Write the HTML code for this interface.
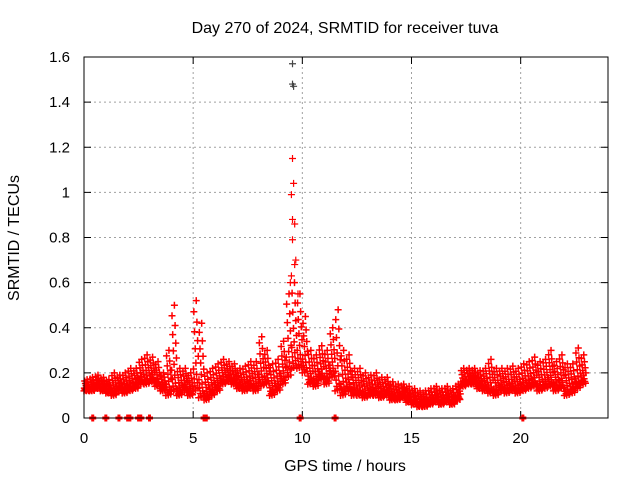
<!DOCTYPE html>
<html><head><meta charset="utf-8"><style>
body{margin:0;background:#fff;}
svg{display:block;font-family:"Liberation Sans",sans-serif;}
</style></head><body>
<svg id="chart" width="640" height="480" viewBox="0 0 640 480">
<rect width="640" height="480" fill="#fff"/>
<text x="345" y="33" font-size="16" text-anchor="middle">Day 270 of 2024, SRMTID for receiver tuva</text>
<text x="345" y="471" font-size="16" text-anchor="middle">GPS time / hours</text>
<text transform="translate(19,238) rotate(-90)" font-size="16" text-anchor="middle">SRMTID / TECUs</text>
<g id="grid"></g><g id="axes"></g><g id="pts"></g>
<rect x="84" y="57" width="524" height="361" fill="none" stroke="#000" stroke-width="1"/>
</svg>
<script>
const xTicks=[0,5,10,15,20];
const yTicks=[0,0.2,0.4,0.6,0.8,1,1.2,1.4,1.6];
const yTickLabels=["0","0.2","0.4","0.6","0.8","1","1.2","1.4","1.6"];
const times=[0,0.25,0.5,0.75,1,1.25,1.5,1.75,2,2.25,2.5,2.75,3,3.25,3.5,3.75,4,4.25,4.5,4.75,5,5.25,5.5,5.75,6,6.25,6.5,6.75,7,7.25,7.5,7.75,8,8.25,8.5,8.75,9,9.25,9.5,9.75,10,10.25,10.5,10.75,11,11.25,11.5,11.75,12,12.25,12.5,12.75,13,13.25,13.5,13.75,14,14.25,14.5,14.75,15,15.25,15.5,15.75,16,16.25,16.5,16.75,17,17.25,17.5,17.75,18,18.25,18.5,18.75,19,19.25,19.5,19.75,20,20.25,20.5,20.75,21,21.25,21.5,21.75,22,22.25,22.5,22.75];
const lowVals=[0.12,0.12,0.13,0.12,0.11,0.10,0.12,0.11,0.12,0.13,0.15,0.15,0.16,0.14,0.12,0.10,0.12,0.10,0.12,0.10,0.12,0.09,0.08,0.10,0.12,0.15,0.16,0.15,0.13,0.12,0.13,0.12,0.14,0.15,0.10,0.12,0.15,0.18,0.22,0.22,0.20,0.15,0.14,0.17,0.15,0.18,0.12,0.10,0.12,0.10,0.10,0.09,0.10,0.10,0.09,0.10,0.08,0.08,0.09,0.07,0.06,0.05,0.05,0.06,0.07,0.06,0.07,0.06,0.08,0.14,0.15,0.15,0.13,0.12,0.11,0.10,0.12,0.11,0.12,0.11,0.12,0.13,0.14,0.12,0.13,0.14,0.12,0.13,0.10,0.11,0.13,0.15];
const highVals=[0.17,0.18,0.19,0.18,0.17,0.20,0.19,0.20,0.22,0.22,0.26,0.28,0.27,0.25,0.20,0.30,0.50,0.22,0.22,0.20,0.52,0.42,0.20,0.22,0.24,0.26,0.25,0.24,0.22,0.23,0.25,0.25,0.36,0.30,0.24,0.26,0.34,0.55,0.60,0.55,0.45,0.30,0.28,0.32,0.30,0.40,0.48,0.30,0.28,0.22,0.22,0.20,0.19,0.20,0.18,0.18,0.16,0.15,0.15,0.14,0.13,0.12,0.12,0.13,0.14,0.13,0.14,0.13,0.15,0.22,0.22,0.22,0.21,0.22,0.26,0.22,0.22,0.22,0.23,0.22,0.24,0.25,0.27,0.25,0.26,0.30,0.25,0.28,0.24,0.24,0.31,0.28];
const spikeTimes=[9.55,9.55,9.6,9.55,9.6,9.5,9.55,9.65,9.55,9.7,9.65,9.5,9.45,9.8];
const spikeVals=[1.57,1.48,1.47,1.15,1.04,0.99,0.88,0.86,0.79,0.70,0.68,0.63,0.60,0.55];
const zeroTimes=[0.4,1.0,1.6,2.0,2.1,2.5,2.6,3.0,5.5,5.6,9.9,11.5,20.1];

const NS="http://www.w3.org/2000/svg";
const X=t=>84+t*(524/24);
const Y=v=>418-v*(361/1.6);
const grid=document.getElementById('grid'),axes=document.getElementById('axes'),pts=document.getElementById('pts');
function mk(tag,at,parent){const e=document.createElementNS(NS,tag);for(const k in at)e.setAttribute(k,at[k]);parent.appendChild(e);return e;}
xTicks.forEach((t,i)=>{
  const x=X(t);
  if(i>0){const g=mk('line',{x1:x,x2:x,y1:57,y2:418,stroke:'#a0a0a0','stroke-dasharray':'2,3'},grid);
  
  }
  mk('line',{x1:x,x2:x,y1:418,y2:411,stroke:'#000'},axes);
  mk('line',{x1:x,x2:x,y1:57,y2:64,stroke:'#000'},axes);
  const l=mk('text',{x:x,y:443,'font-size':15,'text-anchor':'middle'},axes);l.textContent=t;
  
  
});
yTicks.forEach((v,i)=>{
  const y=Y(v);
  if(i>0&&i<yTicks.length-1){const g=mk('line',{x1:84,x2:608,y1:y,y2:y,stroke:'#a0a0a0','stroke-dasharray':'2,3'},grid);
  
  }
  mk('line',{x1:84,x2:91,y1:y,y2:y,stroke:'#000'},axes);
  mk('line',{x1:601,x2:608,y1:y,y2:y,stroke:'#000'},axes);
  const l=mk('text',{x:70,y:y+5,'font-size':15,'text-anchor':'end'},axes);l.textContent=yTickLabels[i];
  
  
});
function plus(t,v,col,w){
  const x=X(t),y=Y(v);
  const p=mk('path',{d:`M${x-3.5},${y}h7M${x},${y-3.5}v7`,stroke:col,'stroke-width':w||1.5,fill:'none'},pts);
  
  
}
const LEVELS=16;
times.forEach((t,i)=>{
  const lo=lowVals[i],hi=highVals[i];
  for(let k=0;k<LEVELS;k++){
    const f=k/(LEVELS-1);
    const dt=((k*7)%LEVELS)/LEVELS*0.25;
    plus(t+dt,lo+(hi-lo)*f*f*0.9+(hi-lo)*0.1*f,'#f00');
  }
});
spikeTimes.forEach((t,i)=>plus(t,spikeVals[i],i<3?'#444':'#f00',1.2));
zeroTimes.forEach(t=>plus(t,0,'#f00',3));
</script>
</body></html>
